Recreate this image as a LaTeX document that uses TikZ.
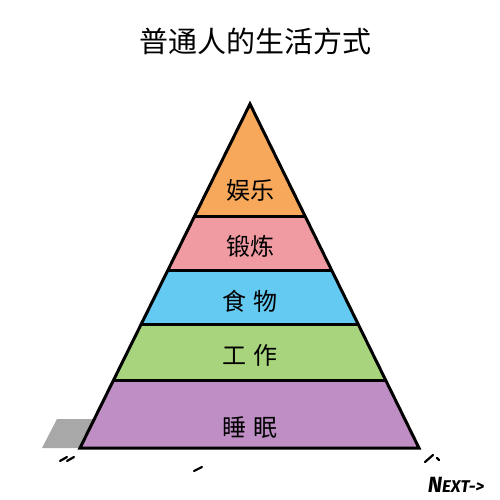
\documentclass[tikz,border=0pt]{standalone}
\usepackage{fontspec}
\newfontfamily\cjk{Noto Sans CJK SC}
\newfontfamily\hand{Fira Sans}
\definecolor{cOrange}{RGB}{247,168,90}
\definecolor{cPink}{RGB}{240,155,162}
\definecolor{cBlue}{RGB}{100,202,242}
\definecolor{cGreen}{RGB}{168,212,125}
\definecolor{cPurple}{RGB}{190,142,196}
\definecolor{cGray}{RGB}{168,168,168}
\begin{document}
\begin{tikzpicture}[x=1pt,y=-1pt,
  lbl/.style={font=\cjk\fontsize{24}{24}\selectfont, inner sep=0pt},
  tick/.style={line width=2.2pt, line cap=round}]
\useasboundingbox (0,0) rectangle (500,500);
\fill[white] (0,0) rectangle (500,500);
% shadow
\fill[cGray] (42,448) -- (57,419) -- (100,419) -- (100,448) -- cycle;
\coordinate (A) at (250,104);
\coordinate (L) at (80,448);
\coordinate (R) at (419,448);
\begin{scope}
\clip (A) -- (L) -- (R) -- cycle;
\fill[cOrange] (0,0) rectangle (500,216);
\fill[cPink] (0,216) rectangle (500,270);
\fill[cBlue] (0,270) rectangle (500,324);
\fill[cGreen] (0,324) rectangle (500,380);
\fill[cPurple] (0,380) rectangle (500,460);
\draw[line width=3pt] (0,216) -- (500,216);
\draw[line width=3pt] (0,270) -- (500,270);
\draw[line width=3pt] (0,324) -- (500,324);
\draw[line width=3pt] (0,380) -- (500,380);
\end{scope}
\draw[line width=3pt, line join=miter] (A) -- (L) -- (R) -- cycle;
\node (title) at (255,41) [font=\cjk\fontsize{29}{29}\selectfont, inner sep=0pt] {普通人的生活方式};
\node (l1) at (250,190) [lbl] {娱乐};
\node (l2) at (250,246) [lbl] {锻炼};
\node (l3) at (250,301) [lbl] {食\,\,物};
\node (l4) at (250,355) [lbl] {工\,\,作};
\node (l5) at (250,428) [lbl] {睡\,\,眠};
% ticks
\draw[tick] (60,461) -- (67,457);
\draw[tick] (67,461) -- (74,457);
\draw[tick] (194,471) -- (202,467);
\draw[tick] (425,462) -- (433,455);
\draw[tick] (437,458) -- (439,460);
\node (next) at (456,485) [font=\hand\bfseries\itshape, inner sep=0pt] {{\fontsize{22}{22}\selectfont N}{\fontsize{17}{17}\selectfont EXT->}};
\end{tikzpicture}
\end{document}
